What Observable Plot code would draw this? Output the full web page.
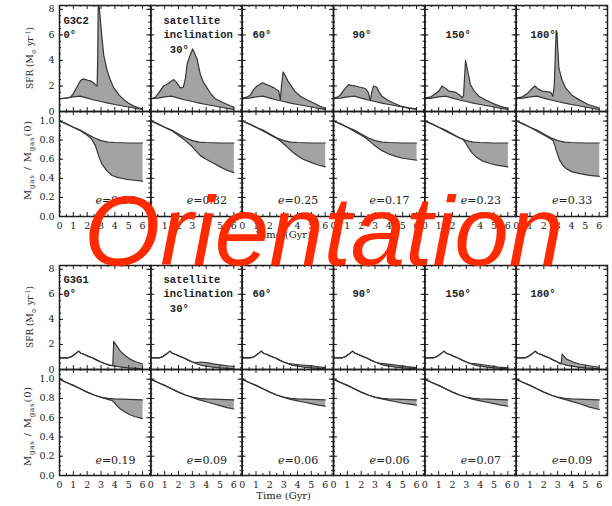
<!DOCTYPE html>
<html><head><meta charset="utf-8">
<script src="https://cdn.jsdelivr.net/npm/d3@7"></script>
<script src="https://cdn.jsdelivr.net/npm/@observablehq/plot@0.6"></script>
<style>
html,body{margin:0;padding:0;background:#fff;}
#wrap{position:relative;width:612px;height:506px;overflow:hidden;background:#fff;}
#wrap svg{position:absolute;left:0;}
</style></head>
<body><div id="wrap"></div>
<script>
// ---------- data ----------
const panelIndex = [0, 1, 2, 3, 4, 5];
const timeTicks = [0, 1, 2, 3, 4, 5, 6];
const sfrTicks = [0, 2, 4, 6, 8];
const gasTicks = [0, 0.2, 0.4, 0.6, 0.8, 1.0];
const labelsC2 = ["G3C2\n0°", "satellite\ninclination\n\u00a030°", "\u00a0\n60°", "\u00a0\n90°", "\u00a0\n150°", "\u00a0\n180°"];
const labelsG1 = ["G3G1\n0°", "satellite\ninclination\n\u00a030°", "\u00a0\n60°", "\u00a0\n90°", "\u00a0\n150°", "\u00a0\n180°"];
const eC2 = ["e=0.36", "e=0.32", "e=0.25", "e=0.17", "e=0.23", "e=0.33"];
const eG1 = ["e=0.19", "e=0.09", "e=0.06", "e=0.06", "e=0.07", "e=0.09"];
const timeTitle = "Time (Gyr)";
const bigTitle = "Orientation";

// G3C2 star formation rate [t (Gyr), SFR]
const c2SfrBase = [[0,1.0],[0.5,1.05],[1.0,1.15],[1.5,1.2],[2.0,1.05],[2.5,0.9],[3.0,0.78],[3.5,0.66],[4.0,0.55],[4.5,0.45],[5.0,0.35],[5.5,0.25],[6.0,0.17]];
const c2Sfr0 = [[0,1.0],[0.3,1.02],[0.6,1.08],[0.8,1.12],[1.0,1.4],[1.16,1.72],[1.35,2.1],[1.52,2.43],[1.7,2.55],[1.88,2.5],[2.05,2.45],[2.24,2.4],[2.45,2.25],[2.6,2.1],[2.72,2.0],[2.76,4.2],[2.8,8.4],[2.88,8.1],[2.96,7.1],[3.09,5.55],[3.2,4.4],[3.45,3.17],[3.7,2.4],[3.92,1.85],[4.3,1.3],[4.65,0.93],[5.0,0.65],[5.37,0.42],[5.7,0.28],[6.0,0.2]];
const c2Sfr30 = [[0,1.0],[0.33,1.1],[0.6,1.5],[0.92,2.0],[1.1,2.1],[1.26,2.2],[1.45,2.35],[1.65,2.5],[1.84,2.3],[2.0,2.05],[2.13,1.85],[2.35,1.9],[2.5,2.6],[2.62,3.7],[2.8,4.3],[3.02,4.9],[3.15,4.6],[3.34,4.1],[3.58,2.9],[3.8,2.3],[4.06,1.85],[4.35,1.35],[4.66,1.0],[5.2,0.7],[5.74,0.45],[6.0,0.35]];
const c2Sfr60 = [[0,1.06],[0.3,1.1],[0.6,1.3],[0.85,1.75],[1.08,2.0],[1.25,2.1],[1.44,2.25],[1.6,2.2],[1.75,2.1],[2.04,2.0],[2.3,1.85],[2.64,1.6],[2.76,0.93],[2.84,2.0],[2.96,3.1],[3.12,2.8],[3.3,2.4],[3.48,2.1],[3.8,1.6],[4.2,1.19],[4.7,0.9],[5.17,0.66],[5.6,0.42],[6.0,0.25]];
const c2Sfr90 = [[0,1.06],[0.25,1.1],[0.5,1.3],[0.8,1.75],[1.09,2.1],[1.3,2.05],[1.57,2.0],[1.94,1.9],[2.3,1.8],[2.51,1.5],[2.66,0.85],[2.78,1.6],[2.9,2.0],[3.14,1.9],[3.3,1.5],[3.5,1.2],[3.9,0.9],[4.34,0.66],[4.8,0.45],[5.31,0.3],[6.0,0.2]];
const c2Sfr150 = [[0,1.06],[0.4,1.12],[0.7,1.35],[1.01,1.6],[1.25,2.0],[1.45,1.85],[1.73,1.6],[2.0,1.55],[2.22,1.5],[2.5,1.3],[2.7,1.06],[2.8,1.3],[2.94,4.0],[3.07,3.3],[3.3,2.1],[3.6,1.55],[3.9,1.2],[4.4,0.9],[4.86,0.66],[5.4,0.42],[6.0,0.24]];
const c2Sfr180 = [[0,1.06],[0.4,1.12],[0.8,1.4],[1.16,1.8],[1.35,2.0],[1.6,1.75],[1.88,1.6],[2.2,1.55],[2.49,1.5],[2.65,1.2],[2.75,2.0],[2.89,6.35],[2.95,6.2],[3.0,5.0],[3.09,3.4],[3.3,2.5],[3.57,1.85],[4.0,1.3],[4.53,0.93],[5.2,0.55],[5.9,0.3]];

// G3C2 gas fraction [t, Mgas/Mgas(0)]
const c2GasBase = [[0,1.0],[0.5,0.97],[1.0,0.935],[1.5,0.905],[2.0,0.865],[2.5,0.825],[3.0,0.795],[3.5,0.78],[4.0,0.775],[5.0,0.77],[6.0,0.77]];
const c2Gas0 = [[0,1.0],[0.5,0.97],[1.0,0.935],[1.5,0.9],[2.0,0.85],[2.3,0.815],[2.6,0.74],[2.84,0.63],[3.08,0.545],[3.45,0.475],[3.8,0.43],[4.17,0.41],[4.8,0.39],[5.37,0.38],[6.0,0.37]];
const c2Gas30 = [[0,1.0],[0.5,0.97],[1.0,0.935],[1.5,0.9],[2.13,0.835],[2.5,0.795],[3.0,0.73],[3.3,0.68],[3.6,0.635],[4.0,0.6],[4.5,0.56],[5.0,0.52],[5.5,0.485],[6.0,0.46]];
const c2Gas60 = [[0,1.0],[0.5,0.97],[1.0,0.935],[1.57,0.89],[2.1,0.85],[2.55,0.815],[2.85,0.78],[3.24,0.73],[3.6,0.68],[3.97,0.64],[4.4,0.6],[4.93,0.57],[5.5,0.54],[6.0,0.52]];
const c2Gas90 = [[0,1.0],[0.5,0.97],[1.0,0.935],[1.65,0.88],[2.2,0.835],[2.6,0.79],[3.0,0.74],[3.5,0.69],[4.0,0.655],[4.5,0.63],[5.0,0.61],[5.5,0.6],[6.0,0.59]];
const c2Gas150 = [[0,1.0],[0.5,0.97],[1.0,0.935],[1.76,0.875],[2.4,0.83],[2.74,0.81],[2.95,0.77],[3.11,0.73],[3.4,0.67],[3.73,0.62],[4.2,0.58],[4.7,0.555],[5.3,0.535],[6.0,0.52]];
const c2Gas180 = [[0,1.0],[0.5,0.97],[1.0,0.935],[1.67,0.88],[2.3,0.83],[2.65,0.8],[2.78,0.75],[2.9,0.69],[3.14,0.59],[3.35,0.54],[3.63,0.5],[4.0,0.47],[4.6,0.45],[5.3,0.43],[6.0,0.42]];

// G3G1 star formation rate
const g1SfrBase = [[0,0.9],[0.3,0.95],[0.6,0.92],[0.9,1.05],[1.15,1.25],[1.38,1.47],[1.55,1.3],[1.8,1.2],[2.1,1.05],[2.4,0.92],[2.7,0.75],[3.0,0.6],[3.3,0.46],[3.6,0.35],[4.0,0.27],[4.5,0.19],[5.0,0.13],[5.5,0.09],[6.0,0.05]];
const g1Sfr0 = [[0,0.9],[0.3,0.95],[0.6,0.92],[0.9,1.05],[1.15,1.25],[1.38,1.47],[1.55,1.3],[1.8,1.2],[2.1,1.05],[2.4,0.92],[2.7,0.75],[3.0,0.6],[3.3,0.46],[3.6,0.35],[3.85,0.31],[3.92,2.25],[4.0,2.1],[4.4,1.47],[4.75,1.1],[5.1,0.83],[5.5,0.62],[6.0,0.44]];
const g1Sfr30 = [[0,0.9],[0.3,0.95],[0.6,0.92],[0.9,1.05],[1.15,1.25],[1.38,1.47],[1.55,1.3],[1.8,1.2],[2.1,1.05],[2.4,0.92],[2.7,0.75],[3.0,0.6],[3.3,0.55],[3.6,0.6],[4.0,0.55],[4.5,0.45],[5.0,0.37],[5.5,0.3],[6.0,0.24]];
const g1Sfr60 = [[0,0.9],[0.3,0.95],[0.6,0.92],[0.9,1.05],[1.15,1.25],[1.38,1.47],[1.55,1.3],[1.8,1.2],[2.1,1.05],[2.4,0.92],[2.7,0.75],[3.0,0.6],[3.3,0.5],[3.8,0.42],[4.3,0.36],[5.0,0.29],[5.5,0.22],[6.0,0.15]];
const g1Sfr90 = [[0,0.9],[0.3,0.95],[0.6,0.92],[0.9,1.05],[1.15,1.25],[1.38,1.47],[1.55,1.3],[1.8,1.2],[2.1,1.05],[2.4,0.92],[2.7,0.75],[3.0,0.6],[3.3,0.52],[3.75,0.45],[4.5,0.35],[5.3,0.23],[6.0,0.15]];
const g1Sfr150 = [[0,0.9],[0.3,0.95],[0.6,0.92],[0.9,1.05],[1.15,1.25],[1.38,1.47],[1.55,1.3],[1.8,1.2],[2.1,1.05],[2.4,0.92],[2.7,0.75],[3.0,0.6],[3.3,0.5],[3.6,0.47],[4.2,0.38],[4.7,0.3],[5.3,0.2],[6.0,0.13]];
const g1Sfr180 = [[0,0.9],[0.3,0.95],[0.6,0.92],[0.9,1.05],[1.15,1.25],[1.38,1.47],[1.55,1.3],[1.8,1.2],[2.1,1.05],[2.4,0.92],[2.7,0.75],[3.0,0.6],[3.15,0.45],[3.25,0.44],[3.32,1.22],[3.42,1.1],[3.65,0.83],[4.1,0.6],[4.6,0.44],[5.3,0.3],[6.0,0.18]];

// G3G1 gas fraction
const g1GasBase = [[0,1.0],[0.5,0.965],[1.0,0.935],[1.5,0.9],[2.0,0.865],[2.5,0.835],[3.0,0.815],[3.5,0.8],[4.0,0.795],[5.0,0.79],[6.0,0.785]];
const g1Gas0 = [[0,1.0],[0.5,0.965],[1.0,0.935],[1.5,0.9],[2.0,0.865],[2.5,0.835],[3.0,0.81],[3.5,0.79],[3.75,0.78],[3.95,0.76],[4.1,0.73],[4.4,0.69],[4.73,0.66],[5.1,0.63],[5.46,0.61],[6.0,0.59]];
const g1Gas30 = [[0,1.0],[0.5,0.965],[1.0,0.935],[1.5,0.9],[2.0,0.865],[2.5,0.835],[3.0,0.81],[3.5,0.785],[4.0,0.765],[4.5,0.745],[5.0,0.725],[5.5,0.705],[6.0,0.69]];
const g1Gas60 = [[0,1.0],[0.5,0.965],[1.0,0.935],[1.5,0.9],[2.0,0.865],[2.5,0.835],[3.0,0.81],[3.5,0.79],[4.0,0.775],[4.5,0.76],[5.0,0.745],[5.5,0.73],[6.0,0.72]];
const g1Gas90 = [[0,1.0],[0.5,0.965],[1.0,0.935],[1.5,0.9],[2.0,0.865],[2.5,0.835],[3.0,0.81],[3.5,0.795],[4.0,0.78],[4.5,0.765],[5.0,0.75],[5.5,0.74],[6.0,0.73]];
const g1Gas150 = [[0,1.0],[0.5,0.965],[1.0,0.935],[1.5,0.9],[2.0,0.865],[2.5,0.835],[3.0,0.81],[3.5,0.79],[4.0,0.775],[4.5,0.76],[5.0,0.745],[5.5,0.73],[6.0,0.72]];
const g1Gas180 = [[0,1.0],[0.5,0.965],[1.0,0.935],[1.5,0.9],[2.0,0.865],[2.5,0.835],[3.0,0.81],[3.5,0.79],[4.0,0.77],[4.6,0.745],[5.3,0.71],[6.0,0.685]];

// ---------- layout ----------
const W = 612, ML = 59, MR = 5;
const facetW = (W - ML - MR) / 6;
const xDomain = [0, 6.6];
const labelX = [0.29, 0.92, 0.74, 1.37, 1.5, 1.03];
const lineCol = "#353535", fillCol = "#a3a3a3", axisCol = "#1e1e1e";
const wrap = document.getElementById("wrap");

function buildPlot(o) {
  const rows = o.series.flatMap((s, p) => s.map(([t, v]) => ({p, t, v})));
  const poly = o.series.flatMap((s, p) => s.concat(o.base.slice().reverse()).map(([t, v]) => ({p, t, v})));
  const base = o.base.map(([t, v]) => ({t, v}));
  const innerH = o.height - o.marginTop - o.marginBottom;
  const marks = [
    Plot.line(poly, {x: "t", y: "v", fx: "p", z: "p", fill: fillCol, stroke: "none", clip: true}),
    Plot.line(base, {x: "t", y: "v", stroke: lineCol, strokeWidth: 1.2, clip: true}),
    Plot.line(rows, {x: "t", y: "v", fx: "p", z: "p", stroke: lineCol, strokeWidth: 1.2, clip: true}),
    Plot.tickY(o.yMajor, {y: d => d, insetRight: facetW - 4, stroke: axisCol}),
    Plot.tickY(o.yMajor, {y: d => d, insetLeft: facetW - 4, stroke: axisCol}),
    Plot.tickY(o.yMinor, {y: d => d, insetRight: facetW - 2, stroke: axisCol}),
    Plot.tickY(o.yMinor, {y: d => d, insetLeft: facetW - 2, stroke: axisCol}),
    Plot.tickX(timeTicks, {x: d => d, insetBottom: innerH - 4, stroke: axisCol}),
    Plot.tickX(timeTicks, {x: d => d, insetTop: innerH - 4, stroke: axisCol}),
    Plot.tickX(d3.range(0.5, 6.6, 1), {x: d => d, insetBottom: innerH - 2, stroke: axisCol}),
    Plot.tickX(d3.range(0.5, 6.6, 1), {x: d => d, insetTop: innerH - 2, stroke: axisCol}),
    Plot.frame({stroke: axisCol, strokeWidth: 1.5}),
    Plot.axisY({ticks: o.yTicks, tickFormat: o.yFormat, anchor: "left", tickSize: 0, tickPadding: 5, fontSize: 9.5, label: null})
  ];
  if (o.labels) {
    marks.push(Plot.text(o.labels, {fx: (d, i) => i, x: (d, i) => labelX[i], text: d => d,
      frameAnchor: "top", textAnchor: "start", lineAnchor: "top", dy: o.labelDy,
      fontFamily: "Liberation Mono", fontWeight: "bold", fontSize: 10.5, lineHeight: 1.38, fill: "#222"}));
  }
  if (o.eLabels) {
    marks.push(Plot.text(o.eLabels, {fx: (d, i) => i, x: () => 5.5, y: () => o.eY, text: d => d,
      textAnchor: "end", fontFamily: "DejaVu Serif", fontSize: 11, fill: "#222"}));
  }
  if (o.xAxis) {
    marks.push(Plot.axisX({ticks: timeTicks, tickFormat: d => String(d), anchor: "bottom", tickSize: 0, tickPadding: 6, fontSize: 9.5, label: null}));
    marks.push(Plot.text([{p: 2, s: timeTitle}], {fx: "p", x: () => 3.0, text: "s", frameAnchor: "bottom", dy: o.timeDy, fontFamily: "DejaVu Serif", fontSize: 10, fill: "#222"}));
  }
  const svg = Plot.plot({
    width: W, height: o.height,
    marginLeft: ML, marginRight: MR, marginTop: o.marginTop, marginBottom: o.marginBottom,
    style: {background: "transparent", overflow: "visible", fontFamily: "DejaVu Serif", color: "#1a1a1a"},
    fx: {domain: panelIndex, padding: 0, round: false, axis: null, label: null},
    x: {domain: xDomain, ...(o.xAxis ? {} : {axis: null})},
    y: {domain: o.yDomain},
    marks
  });
  svg.style.top = o.top + "px";
  // italic e in eccentricity labels
  d3.select(svg).selectAll("text").each(function () {
    if (this.childElementCount === 0 && this.textContent.startsWith("e=")) {
      const s = this.textContent;
      this.textContent = "";
      d3.select(this).append("tspan").attr("font-style", "italic").text("e");
      d3.select(this).append("tspan").text(s.slice(1));
    }
  });
  // rotated y title
  const t = d3.select(svg).append("text")
    .attr("transform", `translate(${o.titleX},${o.titleY}) rotate(-90)`)
    .attr("text-anchor", "middle").attr("font-family", "DejaVu Serif")
    .attr("font-size", o.titleSize).attr("fill", "#2a2a2a").attr("letter-spacing", o.titleSpacing || 0);
  o.title.forEach(([s, kind]) => {
    const ts = t.append("tspan").text(s);
    if (kind === "sub") ts.attr("font-size", o.titleSize * 0.7).attr("dy", 2.5);
    if (kind === "sup") ts.attr("font-size", o.titleSize * 0.7).attr("dy", -3.5);
    if (kind === "back") ts.attr("dy", -2.5);
    if (kind === "down") ts.attr("dy", 3.5);
  });
  wrap.appendChild(svg);
}

const sfrTitle = [["SFR (M", ""], ["⊙", "sub"], [" yr", "back"], ["-1", "sup"], [")", "down"]];
const gasTitle = [["M", ""], ["gas", "sub"], [" / M", "back"], ["gas", "sub"], ["(0)", "back"]];
const sfrMinor = d3.range(0.5, 8.3, 0.5);
const gasMinor = d3.range(0.05, 1.1, 0.05);
const fmtGas = d => d.toFixed(1);

buildPlot({top: 0, height: 111, marginTop: 5, marginBottom: 0, yDomain: [0, 8.3],
  series: [c2Sfr0, c2Sfr30, c2Sfr60, c2Sfr90, c2Sfr150, c2Sfr180], base: c2SfrBase,
  yTicks: sfrTicks, yMajor: sfrTicks, yMinor: sfrMinor, yFormat: d => String(d),
  labels: labelsC2, labelDy: 8, title: sfrTitle, titleX: 33, titleY: 58, titleSize: 9});
buildPlot({top: 111, height: 130, marginTop: 0, marginBottom: 25, yDomain: [0, 1.1],
  series: [c2Gas0, c2Gas30, c2Gas60, c2Gas90, c2Gas150, c2Gas180], base: c2GasBase,
  yTicks: gasTicks, yMajor: gasTicks, yMinor: gasMinor, yFormat: fmtGas,
  eLabels: eC2, eY: 0.17, xAxis: true, timeDy: 21,
  title: gasTitle, titleX: 31, titleY: 49, titleSize: 10, titleSpacing: 0.8});
buildPlot({top: 250, height: 119, marginTop: 15, marginBottom: 0, yDomain: [0, 8.3],
  series: [g1Sfr0, g1Sfr30, g1Sfr60, g1Sfr90, g1Sfr150, g1Sfr180], base: g1SfrBase,
  yTicks: sfrTicks, yMajor: sfrTicks, yMinor: sfrMinor, yFormat: d => String(d),
  labels: labelsG1, labelDy: 7, title: sfrTitle, titleX: 33, titleY: 67, titleSize: 9});
buildPlot({top: 369, height: 137, marginTop: 0, marginBottom: 31, yDomain: [0, 1.1],
  series: [g1Gas0, g1Gas30, g1Gas60, g1Gas90, g1Gas150, g1Gas180], base: g1GasBase,
  yTicks: gasTicks, yMajor: gasTicks, yMinor: gasMinor, yFormat: fmtGas,
  eLabels: eG1, eY: 0.16, xAxis: true, timeDy: 23,
  title: gasTitle, titleX: 31, titleY: 57, titleSize: 10, titleSpacing: 0.8});

// big overlay word
const over = d3.create("svg").attr("width", W).attr("height", 506).style("top", "0px");
over.append("text").attr("x", 84).attr("y", 265)
  .attr("font-family", "Liberation Sans").attr("font-style", "italic")
  .attr("font-size", 98).attr("fill", "#ff2a00").text(bigTitle);
wrap.appendChild(over.node());
</script>
</body></html>
